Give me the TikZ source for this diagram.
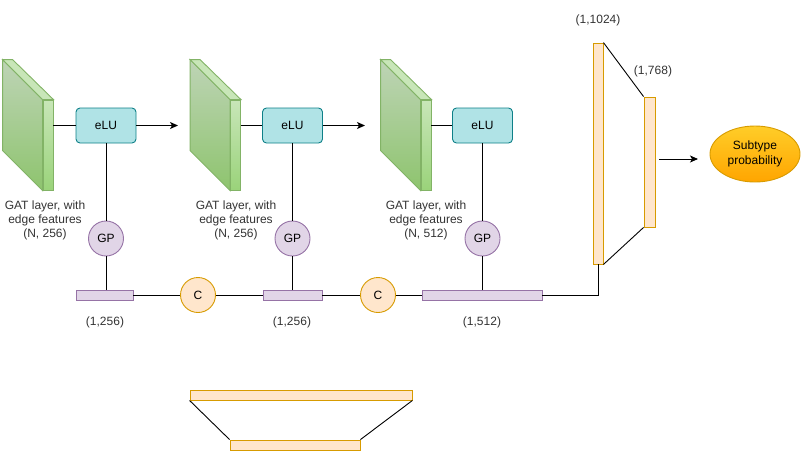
\documentclass[tikz,border=0pt]{standalone}
\usepackage{fontspec}
\setmainfont{Liberation Sans}
\usetikzlibrary{positioning,shapes.geometric,arrows.meta}
\definecolor{gatline}{HTML}{82B366}
\definecolor{sidetop}{HTML}{BED4B6}
\definecolor{sidebot}{HTML}{8EC46E}
\definecolor{fronttop}{HTML}{C8E6B8}
\definecolor{frontbot}{HTML}{9AD37A}
\definecolor{elufill}{HTML}{B0E3E6}
\definecolor{eluline}{HTML}{0E8088}
\definecolor{gpfill}{HTML}{E1D5E7}
\definecolor{gpline}{HTML}{9673A6}
\definecolor{catfill}{HTML}{FFE6CC}
\definecolor{catline}{HTML}{D79B00}
\definecolor{outtop}{HTML}{FFCD28}
\definecolor{outbot}{HTML}{FFA500}
\tikzset{
  gatfront/.style={draw=gatline, top color=fronttop, bottom color=frontbot,
    minimum width=10pt, minimum height=90pt, inner sep=0pt},
  elubox/.style={draw=eluline, fill=elufill, rounded corners=4pt,
    minimum width=60pt, minimum height=35pt, inner sep=0pt},
  gpnode/.style={circle, draw=gpline, fill=gpfill, minimum size=35pt, inner sep=0pt},
  catnode/.style={circle, draw=catline, fill=catfill, minimum size=35pt, inner sep=0pt},
  poolbar/.style={draw=gpline, fill=gpfill, minimum height=10pt, inner sep=0pt},
  fcbar/.style={draw=catline, fill=catfill, inner sep=0pt},
  lbl/.style={align=center, text=black!80, inner sep=0pt},
  arr/.style={-{Stealth[length=8pt,width=7pt,inset=2pt]}}
}

\begin{document}
\begin{tikzpicture}[x=1pt, y=-1pt, line width=0.9pt, font=\fontsize{12}{14}\selectfont]
	\useasboundingbox (0,0) rectangle (801,451);
	% GAT layers
	\foreach \n/\x in {1/48,2/235.5,3/426}{
		\node[gatfront] (gat\n) at (\x,145) {};
		\path[draw=gatline, top color=sidetop, bottom color=sidebot]
			([xshift=-40pt,yshift=40pt]gat\n.north west) -- (gat\n.north west)
			-- (gat\n.south west) -- ([xshift=-40pt,yshift=40pt]gat\n.south west) -- cycle;
		\path[draw=gatline, fill=fronttop]
			([xshift=-40pt,yshift=40pt]gat\n.north west) -- ([xshift=-30pt,yshift=40pt]gat\n.north west)
			-- (gat\n.north east) -- (gat\n.north west) -- cycle;
	}
	\node[lbl] (gl1) at (45,220) {GAT layer, with\\edge features\\(N, 256)};
	\node[lbl] (gl2) at (236,220) {GAT layer, with\\edge features\\(N, 256)};
	\node[lbl] (gl3) at (426,220) {GAT layer, with\\edge features\\(N, 512)};
	% activations and pooling
	\node[elubox] (elu1) at (106,125.5) {eLU};
	\node[elubox] (elu2) at (292.5,125.5) {eLU};
	\node[elubox] (elu3) at (482.5,125.5) {eLU};
	\node[gpnode] (gp1) at (106,238.5) {GP};
	\node[gpnode] (gp2) at (292.5,238.5) {GP};
	\node[gpnode] (gp3) at (482.5,238.5) {GP};
	\node[poolbar, minimum width=57pt] (pool1) at (104.5,295) {};
	\node[poolbar, minimum width=59pt] (pool2) at (292.5,295) {};
	\node[poolbar, minimum width=120pt] (pool3) at (482,295) {};
	\node[catnode] (cat1) at (198,295) {C};
	\node[catnode] (cat2) at (378,295) {C};
	\node[lbl] (pl1) at (105,322) {(1,256)};
	\node[lbl] (pl2) at (292,322) {(1,256)};
	\node[lbl] (pl3) at (482,322) {(1,512)};
	% dense layers
	\node[fcbar, minimum width=10pt, minimum height=221pt] (fc1) at (598,153.5) {};
	\node[fcbar, minimum width=11pt, minimum height=130pt] (fc2) at (649.5,162) {};
	\node[lbl] (fl1) at (598,20) {(1,1024)};
	\node[lbl] (fl2) at (653,71) {(1,768)};
	\node[ellipse, draw=catline, top color=outtop, bottom color=outbot,
		minimum width=90pt, minimum height=56pt, inner sep=0pt, align=center,
		font=\fontsize{12}{15}\selectfont] (out) at (755,154) {Subtype\\probability};
	\coordinate (a1) at (178,125.5);
	\coordinate (a2) at (365,125.5);
	\coordinate (a3) at (659,159);
	\coordinate (a4) at (698,159);
	% connectors
	\foreach \n in {1,2,3}{
		\draw (elu\n.west -| gat\n.east) -- (elu\n.west);
		\draw (elu\n.south) -- (gp\n.north);
		\draw (gp\n.south) -- (gp\n.south |- pool\n.north);
	}
	\draw[arr] (elu1.east) -- (a1);
	\draw[arr] (elu2.east) -- (a2);
	\draw (pool1.east) -- (cat1.west);
	\draw (cat1.east) -- (pool2.west);
	\draw (pool2.east) -- (cat2.west);
	\draw (cat2.east) -- (pool3.west);
	\draw (pool3.east) -| (fc1.south);
	\draw (fc1.north east) -- (fc2.north west);
	\draw (fc1.south east) -- (fc2.south west);
	\draw[arr] (a3) -- (a4);
	% bottom sketch
	\node[fcbar, minimum width=222pt, minimum height=10pt] (wide) at (301,395) {};
	\node[fcbar, minimum width=130pt, minimum height=10pt] (narrow) at (295,445) {};
	\draw (wide.south west) -- (narrow.north west);
	\draw (wide.south east) -- (narrow.north east);
\end{tikzpicture}
\end{document}
